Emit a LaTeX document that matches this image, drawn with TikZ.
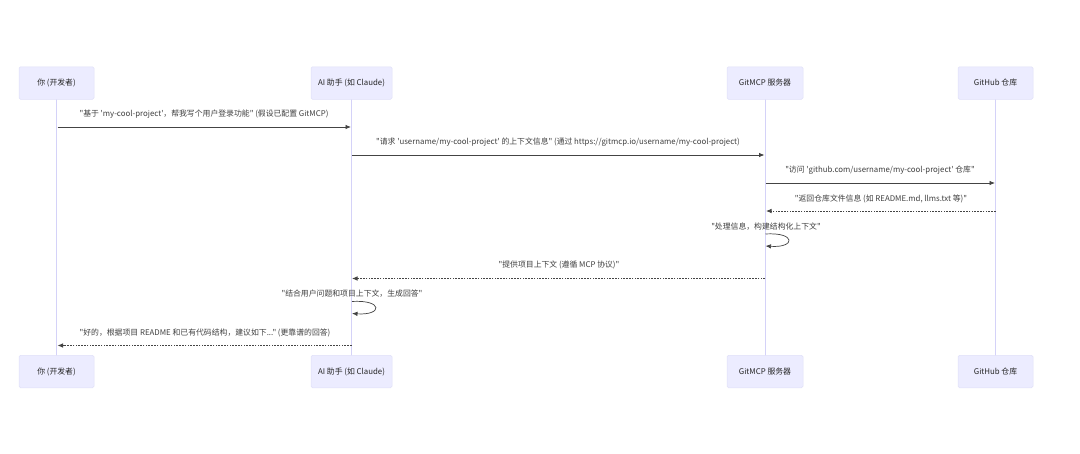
\documentclass[tikz,border=0pt]{standalone}
\usepackage{fontspec}
\newfontfamily\nf{Noto Sans CJK SC}
\usetikzlibrary{arrows.meta}
\definecolor{boxfill}{HTML}{ECECFF}
\definecolor{boxline}{HTML}{E0E0F8}
\definecolor{lifeline}{HTML}{D4D2F8}
\definecolor{msgline}{HTML}{444444}
\tikzset{
  actor/.style={draw=boxline,fill=boxfill,rounded corners=1.5pt,line width=.5pt,inner sep=0pt,
    font=\nf\fontsize{7.85}{9}\selectfont,text=black!85},
  life/.style={draw=lifeline,line width=.9pt},
  msg/.style={draw=msgline,line width=.8pt,-{Latex[length=5.5pt,width=4.5pt]}},
  reply/.style={msg,dash pattern=on 1.6pt off 1.2pt},
  lbl/.style={font=\nf\fontsize{7.85}{9}\selectfont,text=black!75,inner sep=0pt}
}
\begin{document}
\begin{tikzpicture}[x=1pt,y=-1pt]
\useasboundingbox (0,0) rectangle (1080,453);
\fill[white] (0,0) rectangle (1080,453);
% lifelines first, boxes on top
\coordinate (la) at (56.5,83);
\coordinate (lb) at (351.5,83);
\coordinate (lc) at (765,83);
\coordinate (ld) at (995.5,83);
\coordinate (ea) at (56.5,371.5);
\coordinate (eb) at (351.5,371.5);
\coordinate (ec) at (765,371.5);
\coordinate (ed) at (995.5,371.5);
\draw[life] (la) -- (ea);
\draw[life] (lb) -- (eb);
\draw[life] (lc) -- (ec);
\draw[life] (ld) -- (ed);
\node[actor,minimum width=75pt,minimum height=32.5pt] (ta) at (la) {你 (开发者)};
\node[actor,minimum width=81pt,minimum height=32.5pt] (tb) at (lb) {AI 助手 (如 Claude)};
\node[actor,minimum width=76pt,minimum height=32.5pt] (tc) at (lc) {GitMCP 服务器};
\node[actor,minimum width=75pt,minimum height=32.5pt] (td) at (ld) {GitHub 仓库};
\node[actor,minimum width=75pt,minimum height=32.5pt] (ba) at (ea) {你 (开发者)};
\node[actor,minimum width=81pt,minimum height=32.5pt] (bb) at (eb) {AI 助手 (如 Claude)};
\node[actor,minimum width=76pt,minimum height=32.5pt] (bc) at (ec) {GitMCP 服务器};
\node[actor,minimum width=75pt,minimum height=32.5pt] (bd) at (ed) {GitHub 仓库};
% message anchors
\coordinate (m1s) at (57.5,127);   \coordinate (m1e) at (351,127);
\coordinate (m2s) at (352,155);    \coordinate (m2e) at (764.5,155);
\coordinate (m3s) at (765.5,183);  \coordinate (m3e) at (995,183);
\coordinate (m4s) at (995.5,211);  \coordinate (m4e) at (766,211);
\coordinate (m5s) at (765.5,234);  \coordinate (m5e) at (765.5,246);
\coordinate (m6s) at (765,278.5);  \coordinate (m6e) at (352,278.5);
\coordinate (m7s) at (352,301.5);  \coordinate (m7e) at (352,313.5);
\coordinate (m8s) at (351.5,345.5);\coordinate (m8e) at (57.5,345.5);
\draw[msg] (m1s) -- (m1e);
\draw[msg] (m2s) -- (m2e);
\draw[msg] (m3s) -- (m3e);
\draw[reply] (m4s) -- (m4e);
\draw[msg,line width=.7pt] (m5s) .. controls (796,232) and (796,248) .. (m5e);
\draw[reply] (m6s) -- (m6e);
\draw[msg,line width=.7pt] (m7s) .. controls (383,299.5) and (383,315.5) .. (m7e);
\draw[reply] (m8s) -- (m8e);
% labels
\node[lbl] (t1) at (204,114) {"基于 'my-cool-project'，帮我写个用户登录功能" (假设已配置 GitMCP)};
\node[lbl] (t2) at (558,142.5) {"请求 'username/my-cool-project' 的上下文信息" (通过 https://gitmcp.io/username/my-cool-project)};
\node[lbl] (t3) at (880,170.5) {"访问 'github.com/username/my-cool-project' 仓库"};
\node[lbl] (t4) at (881,198.5) {"返回仓库文件信息 (如 README.md, llms.txt 等)"};
\node[lbl] (t5) at (766,226.5) {"处理信息，构建结构化上下文"};
\node[lbl] (t6) at (559,265) {"提供项目上下文 (遵循 MCP 协议)"};
\node[lbl] (t7) at (352,293.5) {"结合用户问题和项目上下文，生成回答"};
\node[lbl] (t8) at (205,332.5) {"好的，根据项目 README 和已有代码结构，建议如下..." (更靠谱的回答)};
\end{tikzpicture}
\end{document}
